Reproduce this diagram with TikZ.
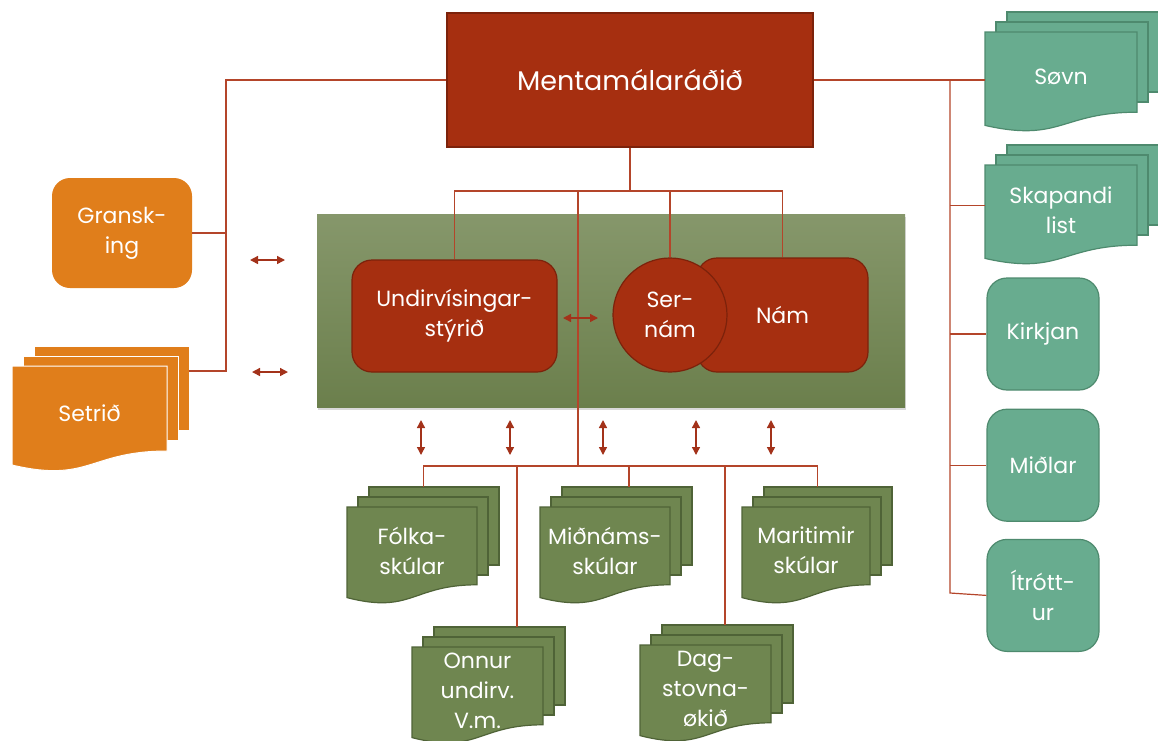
\documentclass[tikz,border=0pt]{standalone}
\usepackage{fontspec}
\setmainfont{Poppins}
\usetikzlibrary{positioning,arrows.meta,shadows}

\definecolor{rust}{HTML}{A62F10}
\definecolor{rustdark}{HTML}{7C220B}
\definecolor{wire}{HTML}{B4452A}
\definecolor{tipc}{HTML}{A3321A}
\definecolor{amber}{HTML}{E07E1B}
\definecolor{tealf}{HTML}{68AC8F}
\definecolor{tealdark}{HTML}{4E8A6E}
\definecolor{olivef}{HTML}{6F8650}
\definecolor{olivedark}{HTML}{4F6337}
\definecolor{pantop}{HTML}{86976B}
\definecolor{panbot}{HTML}{6B7F4C}

% stack of three documents: name, x, y, width, height, style, text
\newcommand\stackdoc[7]{%
  \foreach \k in {2,1}
    \path[#6] (#2+11*\k,#3-10*\k) rectangle ++(#4,0.7*#5+10);
  \path[#6] (#2,#3) -- (#2+#4,#3) -- (#2+#4,#3+0.802*#5)
    .. controls (#2+0.5*#4,#3+0.802*#5) and (#2+0.5*#4,#3+1.107*#5) .. (#2,#3+0.934*#5) -- cycle;
  \node[inner sep=0pt, minimum width=#4pt+22pt, minimum height=#5pt+20pt, anchor=north west] (#1) at (#2,#3-20) {};
  \node[txt] at (#2+0.5*#4,#3+0.45*#5) {#7};
}

\begin{document}
\begin{tikzpicture}[x=1pt,y=-1pt,
  txt/.style={text=white,align=center,font=\fontsize{22}{30}\selectfont},
  link/.style={draw=wire,line width=1.2pt},
  dbl/.style={{Triangle[length=8pt,width=8pt]}-{Triangle[length=8pt,width=8pt]},draw=tipc,line width=1.4pt},
  redbox/.style={txt,draw=rustdark,fill=rust,line width=1.2pt},
  amberdoc/.style={fill=amber,draw=white,line width=1pt},
  tealdoc/.style={fill=tealf,draw=tealdark,line width=1.2pt},
  olivedoc/.style={fill=olivef,draw=olivedark,line width=1.2pt},
  tealbox/.style={txt,tealdoc,rounded corners=20pt,minimum width=112pt,minimum height=112pt}]
  \useasboundingbox (0,0) rectangle (1158,740);

  \node[top color=pantop, bottom color=panbot, drop shadow={shadow xshift=1pt, shadow yshift=-3pt, opacity=.3},
        minimum width=588pt, minimum height=193pt] (panel) at (611,310.5) {};

  \path
  node[redbox, minimum width=366pt, minimum height=134pt, font=\fontsize{27}{32}\selectfont] (mr) at (630,80) {Mentamálaráðið}
  node[txt, fill=amber, rounded corners=18pt, minimum width=140pt, minimum height=110pt] (gran) at (122,233) {Gransk-\\ing}
  node[redbox, rounded corners=20pt, minimum width=205pt, minimum height=112pt] (undir) at (454.5,316) {Undirvísingar-\\stýrið}
  node[redbox, rounded corners=20pt, minimum width=171pt, minimum height=114pt] (nam) at (782.5,315) {Nám}
  node[redbox, circle, minimum size=114pt] (ser) at (670,315) {Ser-\\nám}
  node[tealbox] (kirk) at (1043,334) {Kirkjan}
  node[tealbox, below=18pt of kirk] (midl) {Miðlar}
  node[tealbox, below=17pt of midl] (itr) {Ítrótt-\\ur}
  ;

  \stackdoc{setr}{12}{366}{155}{106}{amberdoc}{Setrið}
  \stackdoc{sovn}{985}{32}{152}{100}{tealdoc}{Søvn}
  \stackdoc{skap}{985}{165}{152}{100}{tealdoc}{Skapandi\\list}
  \stackdoc{folk}{347}{507}{130}{97}{olivedoc}{Fólka-\\skúlar}
  \stackdoc{midn}{540}{507}{130}{97}{olivedoc}{Miðnáms-\\skúlar}
  \stackdoc{mari}{742}{507}{128}{97}{olivedoc}{Maritimir\\skúlar}
  \stackdoc{onn}{412}{647}{131}{97}{olivedoc}{Onnur\\undirv.\\V.m.}
  \stackdoc{dag}{640}{645}{131}{97}{olivedoc}{Dag-\\stovna-\\økið}

  % left side
  \coordinate (ljoin) at (226,233);
  \coordinate (lend) at (226,371);
  \draw[link] (mr.west) -| (ljoin) -- (lend) -- (lend -| setr.east);
  \draw[link] (gran) -- (ljoin);

  % right side
  \coordinate (rend) at (950,593);
  \draw[link] (mr.east) -- (mr.east -| sovn.west);
  \draw[link] (mr.east -| rend) -- (rend) -- (itr.west);
  \draw[link] (skap.west -| rend) -- (skap.west);
  \foreach \n in {kirk,midl}
    \draw[link] (\n.west -| rend) -- (\n.west);

  % middle
  \coordinate (tbus) at (578,191);
  \coordinate (bbus) at (578,466);
  \draw[link] (mr.south) -- (mr.south |- tbus);
  \draw[link] (undir.north) |- (tbus) -| (nam.north);
  \draw[link] (ser.north) -- (ser.north |- tbus);
  \draw[link] (tbus) -- (bbus);
  \draw[link] (folk.north) |- (bbus) -| (mari.north);
  \foreach \x/\n in {517/onn,629/midn,725/dag} {
    \coordinate (b\n) at (\x,466);
    \draw[link] (b\n) -- (b\n |- \n.north);
  }

  % double arrows
  \foreach \x [count=\i] in {421,510,603,696,771} {
    \coordinate (up\i) at (\x,420);
    \coordinate (dn\i) at (\x,455);
    \draw[dbl] (up\i) -- (dn\i);
  }
  \foreach \xa/\xb/\y [count=\i] in {250/285/260,252/288/372,563/598/318} {
    \coordinate (lf\i) at (\xa,\y);
    \coordinate (rt\i) at (\xb,\y);
    \draw[dbl] (lf\i) -- (rt\i);
  }
\end{tikzpicture}
\end{document}
